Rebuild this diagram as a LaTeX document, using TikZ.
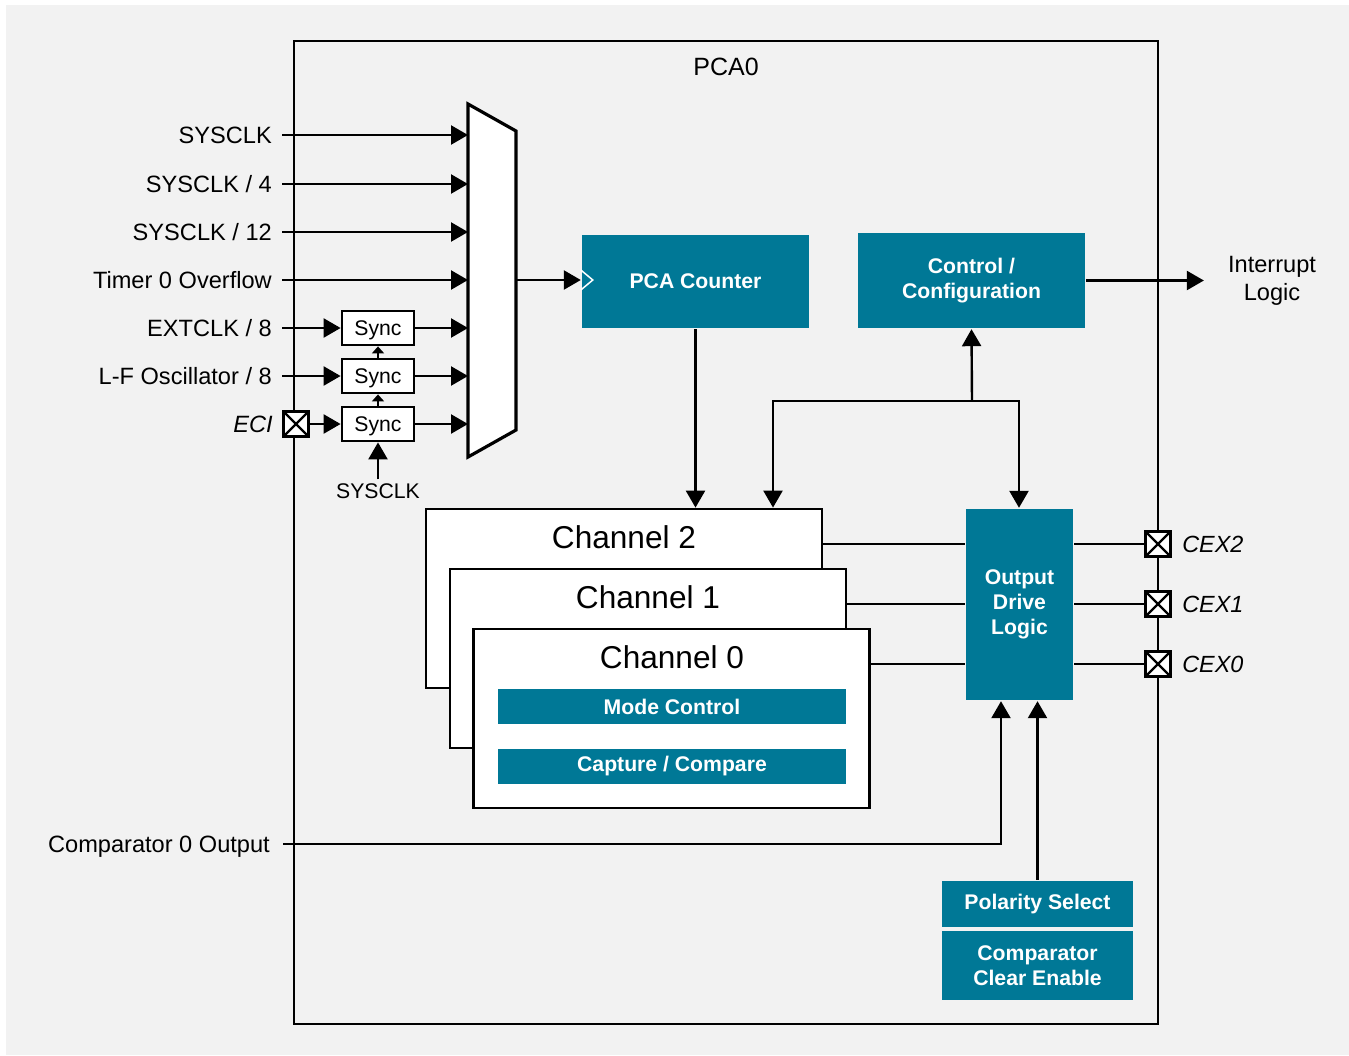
\documentclass[tikz,border=0pt]{standalone}
\usepackage{fontspec}
\setmainfont{Liberation Sans}
\usetikzlibrary{calc}
\usetikzlibrary{positioning}
\usetikzlibrary{arrows.meta}
\definecolor{tiblue}{RGB}{0,120,150}
\definecolor{bggray}{RGB}{242,242,242}

\begin{document}
\begin{tikzpicture}[x=0.5pt, y=-0.5pt, line width=1.2pt,
	arr/.style={-{Triangle[length=8.5pt, width=9.5pt]}},
	smallarr/.style={-{Triangle[length=3.5pt, width=6pt]}},
	lbl/.style={font=\fontsize{11.8}{14}\selectfont, inner sep=4.5pt, text height=8.45pt, text depth=0pt, anchor=east},
	blk/.style={fill=tiblue, text=white, align=center, inner sep=0pt, font=\fontsize{10.6}{12.5}\selectfont\bfseries},
	chan/.style={draw, fill=white, line width=1.4pt, minimum width=198pt, minimum height=89.5pt, inner sep=0pt},
	chtitle/.style={font=\fontsize{15.8}{18}\selectfont},
	syncbox/.style={draw, fill=white, line width=1.4pt, minimum width=36pt, minimum height=17pt, inner sep=0pt, text height=7.6pt, text depth=0pt, font=\fontsize{10.6}{12}\selectfont},
	pin/.style={draw, fill=white, line width=1.6pt, minimum size=12.5pt, inner sep=0pt,
		path picture={\draw[line width=1.1pt] (path picture bounding box.north west) -- (path picture bounding box.south east)
			(path picture bounding box.north east) -- (path picture bounding box.south west);}},
	pinlbl/.style={font=\fontsize{11.7}{14}\selectfont\itshape, inner sep=0pt}]
	\useasboundingbox (0,0) rectangle (1349,1055);
	\fill[bggray] (6,5) rectangle (1349,1055);
	% PCA0 frame
	\node[draw, line width=1.3pt, minimum width=432pt, minimum height=491.5pt, inner sep=0pt] (pca0) at (726,532.5) {};
	\node[font=\fontsize{12.5}{15}\selectfont] (pca0title) at (726,67) {PCA0};
	% clock mux
	\draw[line width=1.6pt, fill=white] (468,104) -- (516,131) -- (516,430) -- (468,457) -- cycle;
	\coordinate (m1) at (468,135);
	\coordinate (m2) at (468,184);
	\coordinate (m3) at (468,232);
	\coordinate (m4) at (468,280);
	\coordinate (m5) at (468,328);
	\coordinate (m6) at (468,376);
	\coordinate (m7) at (468,424);
	\coordinate (mout) at (516,280);
	% clock sources
	\node[lbl] (sysclk) at (282,135) {SYSCLK};
	\node[lbl] (sysclk4) at (282,184) {SYSCLK / 4};
	\node[lbl] (sysclk12) at (282,232) {SYSCLK / 12};
	\node[lbl] (t0ovf) at (282,280) {Timer 0 Overflow};
	\node[lbl] (extclk) at (282,328) {EXTCLK / 8};
	\node[lbl] (lfosc) at (282,376) {L-F Oscillator / 8};
	\node[pin] (eci) at (296,424) {};
	\node[lbl, font=\fontsize{11.8}{14}\selectfont\itshape, inner sep=0pt, left=4pt of eci] (ecilbl) {ECI};
	\node[syncbox] (s1) at (378,328) {Sync};
	\node[syncbox] (s2) at (378,376) {Sync};
	\node[syncbox] (s3) at (378,424) {Sync};
	\node[font=\fontsize{10.6}{12}\selectfont, inner sep=1.5pt] (sclk) at (378,491) {SYSCLK};
	\draw[arr] (sysclk) -- (m1);
	\draw[arr] (sysclk4) -- (m2);
	\draw[arr] (sysclk12) -- (m3);
	\draw[arr] (t0ovf) -- (m4);
	\draw[arr] (extclk) -- (s1);
	\draw[arr] (lfosc) -- (s2);
	\draw[arr] (eci) -- (s3);
	\draw[arr] (s1) -- (m5);
	\draw[arr] (s2) -- (m6);
	\draw[arr] (s3) -- (m7);
	\draw[smallarr] (s3) -- (s2);
	\draw[smallarr] (s2) -- (s1);
	\draw[arr] (sclk) -- (s3);
	% counter and control
	\node[blk, minimum width=113.5pt, minimum height=46.5pt] (pca) at (695.5,281.5) {PCA Counter};
	\draw[white, line width=0.75pt] ($(pca.west |- mout)+(0,-10)$) -- ++(12,10) -- ++(-12,10);
	\node[blk, minimum width=113.5pt, minimum height=47.5pt] (ctrl) at (971.5,280.5) {Control /\\Configuration};
	\node[font=\fontsize{11.8}{14}\selectfont, align=center, inner xsep=11.5pt, inner ysep=2pt] (irq) at (1272,280.5) {Interrupt\\Logic};
	\draw[arr] (mout) -- (mout -| pca.west);
	\draw[arr] (ctrl) -- (ctrl -| irq.west);
	% channels
	\node[chan] (ch2) at (624,598.5) {};
	\node[chtitle] at (624,537) {Channel 2};
	\node[chan] (ch1) at (648,658.5) {};
	\node[chtitle] at (648,597) {Channel 1};
	\node[chan] (ch0) at (671.5,718.5) {};
	\node[chtitle] at (672,657) {Channel 0};
	\node[blk, minimum width=174pt, minimum height=17.5pt] (mode) at (672,706.5) {Mode Control};
	\node[blk, minimum width=174pt, minimum height=17.5pt] (capt) at (672,766.5) {Capture / Compare};
	% output side
	\node[blk, minimum width=53.5pt, minimum height=95.5pt] (odl) at (1019.5,604.5) {Output\\Drive\\Logic};
	\node[blk, minimum width=95.5pt, minimum height=23pt] (pol) at (1037.5,904) {Polarity Select};
	\node[blk, minimum width=95.5pt, minimum height=34.5pt] (cce) at (1037.5,965.5) {Comparator\\Clear Enable};
	\node[pin] (cex2) at (1158,544) {};
	\node[pin] (cex1) at (1158,604) {};
	\node[pin] (cex0) at (1158,664) {};
	\node[pinlbl, right=4.5pt of cex2] (cex2lbl) {CEX2};
	\node[pinlbl, right=4.5pt of cex1] (cex1lbl) {CEX1};
	\node[pinlbl, right=4.5pt of cex0] (cex0lbl) {CEX0};
	% bus between counter, control and outputs
	\coordinate (bus) at (972,401);
	\coordinate (busL) at (773,401);
	\coordinate (busR) at (1019,401);
	\draw[arr] (pca) -- (pca |- ch2.north);
	\draw[arr] (bus) -- (ctrl.south);
	\draw[arr] (bus) -| (busL |- ch2.north);
	\draw[arr] (bus) -| (busR |- odl.north);
	\draw (ch2.east |- cex2) -- (odl.west |- cex2);
	\draw (ch1.east |- cex1) -- (odl.west |- cex1);
	\draw (ch0.east |- cex0) -- (odl.west |- cex0);
	\draw (odl.east |- cex2) -- (cex2);
	\draw (odl.east |- cex1) -- (cex1);
	\draw (odl.east |- cex0) -- (cex0);
	% comparator input
	\node[lbl, inner sep=6pt] (cmp) at (283,844) {Comparator 0 Output};
	\draw[arr] (cmp) -| ([xshift=-9.25pt]odl.south);
	\draw[arr] (pol) -- (pol |- odl.south);
\end{tikzpicture}
\end{document}
